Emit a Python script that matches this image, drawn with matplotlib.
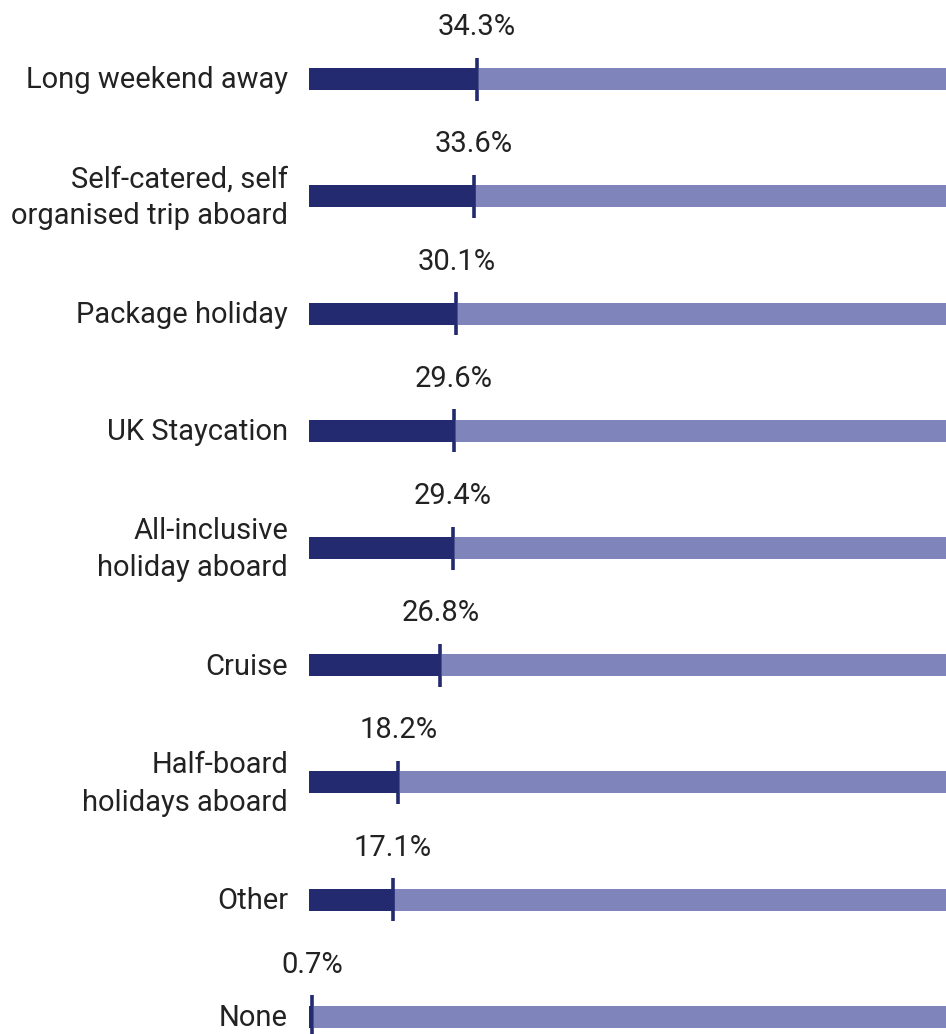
import matplotlib
matplotlib.use("Agg")
import matplotlib.pyplot as plt
from matplotlib.transforms import offset_copy

plt.rcParams["font.family"] = ["Roboto", "DejaVu Sans"]

categories = [
    "Long weekend away",
    "Self-catered, self\norganised trip aboard",
    "Package holiday",
    "UK Staycation",
    "All-inclusive\nholiday aboard",
    "Cruise",
    "Half-board\nholidays aboard",
    "Other",
    "None",
]
values = [34.3, 33.6, 30.1, 29.6, 29.4, 26.8, 18.2, 17.1, 0.7]
value_labels = ["34.3%", "33.6%", "30.1%", "29.6%", "29.4%", "26.8%", "18.2%", "17.1%", "0.7%"]

scale_max = 130.0
dark = "#232a70"
light = "#7f84bb"
text_color = "#222222"

W, H, DPI = 946, 1034, 100
fig = plt.figure(figsize=(W / DPI, H / DPI), dpi=DPI)
ax = fig.add_axes([309 / W, 0, (W - 309) / W, 1])

n = len(categories)
step = (1017 - 79) / (n - 1)
ax.set_ylim((H - 79) / step, -79 / step)
ax.set_xlim(0, scale_max)
ax.axis("off")

bar_h = 22 / step
tick_half = 21.5 / step
gap = 1.5 * scale_max / (W - 309)
fs = 21

for i, (v, lab) in enumerate(zip(values, value_labels)):
    ax.barh(i, v, height=bar_h, color=dark, left=0, linewidth=0)
    ax.barh(i, scale_max - v - gap, left=v + gap, height=bar_h, color=light, linewidth=0)
    ax.plot([v, v], [i - tick_half, i + tick_half], color=dark, linewidth=2.6,
            solid_capstyle="butt")
    ax.text(v, i - 52 / step, lab, ha="center", va="center", fontsize=fs,
            color=text_color)

label_tr = offset_copy(ax.transData, fig=fig, x=-21, y=-1.5, units="dots")
for i, cat in enumerate(categories):
    ax.text(0, i, cat, transform=label_tr, ha="right", va="center",
            fontsize=fs, color=text_color, linespacing=1.42)

fig.savefig("out.png", dpi=DPI)
